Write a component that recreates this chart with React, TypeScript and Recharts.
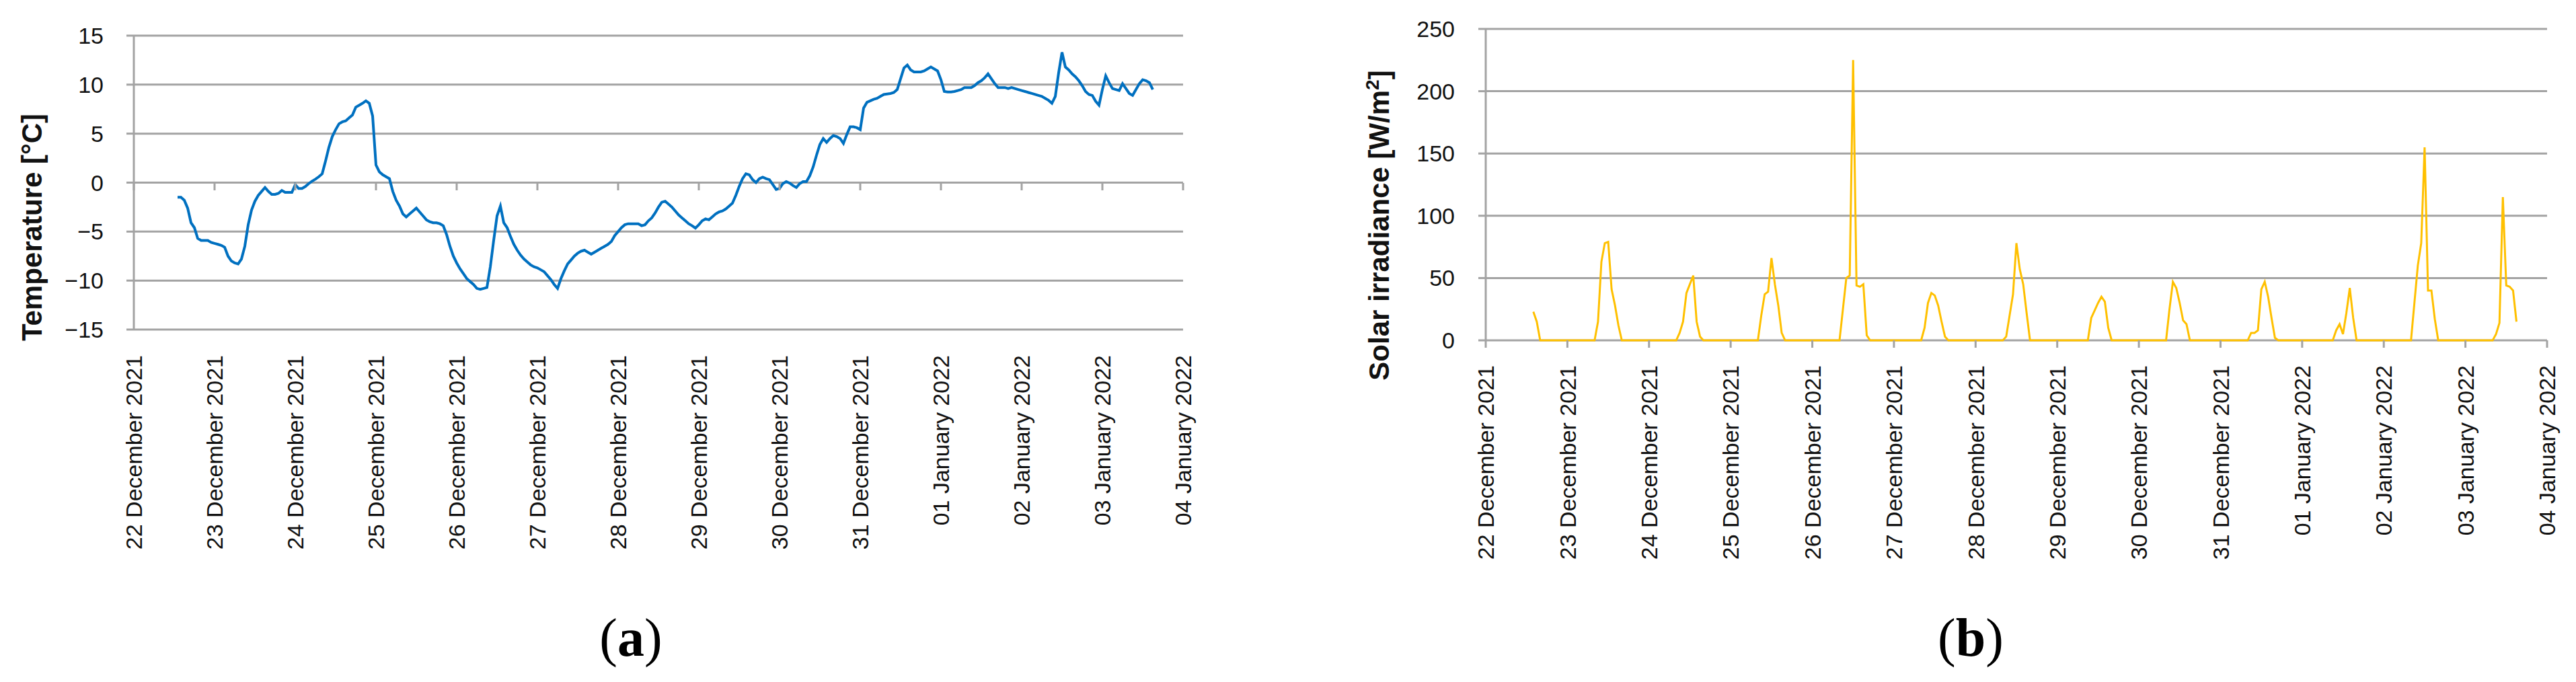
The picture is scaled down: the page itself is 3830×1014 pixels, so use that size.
import React from "react";
import { CartesianGrid, Line, LineChart, XAxis, YAxis } from "recharts";

const dateLabels = [
  "22 December 2021",
  "23 December 2021",
  "24 December 2021",
  "25 December 2021",
  "26 December 2021",
  "27 December 2021",
  "28 December 2021",
  "29 December 2021",
  "30 December 2021",
  "31 December 2021",
  "01 January 2022",
  "02 January 2022",
  "03 January 2022",
  "04 January 2022",
];
const dayTicks = dateLabels.map((_, i) => i);
const tempTicks = [-15, -10, -5, 0, 5, 10, 15];
const solarTicks = [0, 50, 100, 150, 200, 250];

// hourly air temperature [°C]; first day starts at 13:00, last day ends at 15:00
const tempDec22 = [-1.5, -1.5, -1.8, -2.6, -4.1, -4.6, -5.7, -5.9, -5.9, -5.9, -6.1];
const tempDec23 = [-6.2, -6.3, -6.4, -6.6, -7.5, -8.0, -8.2, -8.3, -7.8, -6.5, -4.3, -2.8, -1.9, -1.3, -0.9, -0.5, -0.9, -1.2, -1.2, -1.1, -0.8, -1.0, -1.0, -1.0];
const tempDec24 = [-0.2, -0.6, -0.6, -0.4, -0.1, 0.15, 0.35, 0.6, 0.9, 2.2, 3.6, 4.7, 5.4, 6.0, 6.2, 6.3, 6.6, 6.9, 7.7, 7.9, 8.1, 8.35, 8.1, 6.8];
const tempDec25 = [1.8, 1.1, 0.8, 0.6, 0.4, -0.9, -1.8, -2.4, -3.2, -3.5, -3.2, -2.9, -2.6, -3.0, -3.4, -3.8, -4.0, -4.1, -4.1, -4.2, -4.4, -5.3, -6.5, -7.5];
const tempDec26 = [-8.2, -8.8, -9.3, -9.8, -10.1, -10.4, -10.8, -10.9, -10.8, -10.7, -8.6, -5.9, -3.4, -2.4, -4.1, -4.6, -5.5, -6.3, -6.9, -7.4, -7.8, -8.1, -8.4, -8.6];
const tempDec27 = [-8.7, -8.9, -9.1, -9.5, -9.9, -10.4, -10.8, -9.8, -9.0, -8.3, -7.9, -7.5, -7.2, -7.0, -6.9, -7.1, -7.3, -7.1, -6.9, -6.7, -6.5, -6.3, -6.0, -5.4];
const tempDec28 = [-5.0, -4.6, -4.3, -4.2, -4.2, -4.2, -4.2, -4.4, -4.3, -3.9, -3.6, -3.1, -2.5, -2.0, -1.9, -2.2, -2.5, -2.9, -3.3, -3.6, -3.9, -4.2, -4.4, -4.65];
const tempDec29 = [-4.3, -3.9, -3.7, -3.8, -3.5, -3.2, -3.0, -2.9, -2.7, -2.4, -2.1, -1.3, -0.4, 0.4, 0.9, 0.8, 0.3, 0.0, 0.4, 0.55, 0.4, 0.3, -0.2, -0.7];
const tempDec30 = [-0.6, -0.1, 0.1, -0.05, -0.3, -0.5, -0.1, 0.1, 0.1, 0.7, 1.6, 2.8, 3.9, 4.5, 4.1, 4.5, 4.8, 4.7, 4.5, 4.0, 4.9, 5.7, 5.7, 5.6];
const tempDec31 = [5.4, 7.6, 8.2, 8.35, 8.5, 8.6, 8.8, 9.0, 9.05, 9.1, 9.2, 9.5, 10.6, 11.7, 12.0, 11.5, 11.3, 11.3, 11.3, 11.4, 11.6, 11.8, 11.6, 11.4];
const tempJan01 = [10.5, 9.3, 9.25, 9.25, 9.3, 9.4, 9.5, 9.7, 9.7, 9.7, 9.9, 10.2, 10.4, 10.7, 11.1, 10.6, 10.1, 9.7, 9.7, 9.7, 9.6, 9.7, 9.6, 9.5];
const tempJan02 = [9.4, 9.3, 9.2, 9.1, 9.0, 8.9, 8.8, 8.6, 8.4, 8.1, 8.8, 11.2, 13.3, 11.8, 11.5, 11.1, 10.8, 10.4, 9.9, 9.3, 9.0, 8.9, 8.3, 7.9];
const tempJan03 = [9.5, 10.9, 10.2, 9.6, 9.5, 9.4, 10.1, 9.6, 9.1, 8.9, 9.5, 10.1, 10.5, 10.4, 10.2, 9.5];

// hourly solar irradiance [W/m²]; first day starts at 14:00, last day ends at 15:00
const solarDec22 = [23, 15, 0, 0, 0, 0, 0, 0, 0, 0];
const solarDec23 = [0, 0, 0, 0, 0, 0, 0, 0, 0, 15, 63, 78, 79, 41, 28, 12, 0, 0, 0, 0, 0, 0, 0, 0];
const solarDec24 = [0, 0, 0, 0, 0, 0, 0, 0, 0, 6, 15, 38, 45, 52, 15, 3, 0, 0, 0, 0, 0, 0, 0, 0];
const solarDec25 = [0, 0, 0, 0, 0, 0, 0, 0, 0, 20, 37, 39, 66, 45, 28, 6, 0, 0, 0, 0, 0, 0, 0, 0];
const solarDec26 = [0, 0, 0, 0, 0, 0, 0, 0, 0, 25, 50, 52, 225, 44, 43, 45, 4, 0, 0, 0, 0, 0, 0, 0];
const solarDec27 = [0, 0, 0, 0, 0, 0, 0, 0, 0, 10, 30, 38, 36, 28, 15, 3, 0, 0, 0, 0, 0, 0, 0, 0];
const solarDec28 = [0, 0, 0, 0, 0, 0, 0, 0, 0, 3, 20, 37, 78, 57, 45, 22, 0, 0, 0, 0, 0, 0, 0, 0];
const solarDec29 = [0, 0, 0, 0, 0, 0, 0, 0, 0, 0, 18, 24, 30, 35, 31, 10, 0, 0, 0, 0, 0, 0, 0, 0];
const solarDec30 = [0, 0, 0, 0, 0, 0, 0, 0, 0, 25, 47, 42, 30, 16, 13, 0, 0, 0, 0, 0, 0, 0, 0, 0];
const solarDec31 = [0, 0, 0, 0, 0, 0, 0, 0, 0, 6, 6, 8, 41, 47, 35, 18, 2, 0, 0, 0, 0, 0, 0, 0];
const solarJan01 = [0, 0, 0, 0, 0, 0, 0, 0, 0, 0, 8, 13, 5, 22, 42, 18, 0, 0, 0, 0, 0, 0, 0, 0];
const solarJan02 = [0, 0, 0, 0, 0, 0, 0, 0, 0, 30, 60, 78, 155, 40, 40, 17, 0, 0, 0, 0, 0, 0, 0, 0];
const solarJan03 = [0, 0, 0, 0, 0, 0, 0, 0, 0, 5, 14, 115, 44, 43, 40, 15];

const tempDays = [tempDec22, tempDec23, tempDec24, tempDec25, tempDec26, tempDec27, tempDec28, tempDec29, tempDec30, tempDec31, tempJan01, tempJan02, tempJan03];
const solarDays = [solarDec22, solarDec23, solarDec24, solarDec25, solarDec26, solarDec27, solarDec28, solarDec29, solarDec30, solarDec31, solarJan01, solarJan02, solarJan03];

// x = days since 22 Dec 00:00
function toRows(days: number[][], firstHour: number) {
  const rows: { t: number; v: number }[] = [];
  days.forEach((vals, d) => {
    const start = d === 0 ? firstHour : 0;
    vals.forEach((v, i) => rows.push({ t: d + (start + i) / 24, v }));
  });
  return rows;
}

const tempData = toRows(tempDays, 13);
const solarData = toRows(solarDays, 14);

const gridColor = "#a3a3a3";
const textColor = "#111";
const sans = "'Liberation Sans', Arial, sans-serif";

function DateTick(props: any) {
  const { x, payload, markY, labelY } = props;
  return (
    <g>
      <line x1={x} x2={x} y1={markY} y2={markY + 11} stroke={gridColor} strokeWidth={3} />
      <text
        transform={`translate(${x},${labelY}) rotate(-90)`}
        textAnchor="end"
        dy="0.36em"
        fontSize={34}
        fill={textColor}
        fontFamily={sans}
      >
        {dateLabels[payload.value]}
      </text>
    </g>
  );
}

const fmtTemp = (v: number) => (v < 0 ? `\u2212${Math.abs(v)}` : `${v}`);

export default function App() {
  return (
    <div
      style={{
        position: "absolute",
        left: 0,
        top: 0,
        width: 3830,
        height: 1014,
        background: "#fff",
        fontFamily: sans,
      }}
    >
      <div style={{ position: "absolute", left: 0, top: 0 }}>
        <LineChart width={1800} height={860} data={tempData} margin={{ top: 53, right: 41, bottom: 0, left: 0 }}>
          <CartesianGrid vertical={false} stroke={gridColor} strokeWidth={3} />
          <XAxis
            dataKey="t"
            type="number"
            domain={[0, 13]}
            ticks={dayTicks}
            interval={0}
            height={370}
            axisLine={false}
            tickLine={false}
            tick={(p: any) => <DateTick {...p} markY={272} labelY={528} />}
          />
          <YAxis
            domain={[-15, 15]}
            ticks={tempTicks}
            width={199}
            tickSize={11}
            tickMargin={34}
            tickFormatter={fmtTemp}
            axisLine={{ stroke: gridColor, strokeWidth: 3 }}
            tickLine={{ stroke: gridColor, strokeWidth: 3 }}
            tick={{ fontSize: 34, fill: textColor, fontFamily: sans }}
          />
          <Line
            type="linear"
            dataKey="v"
            stroke="#0070C0"
            strokeWidth={4}
            dot={false}
            activeDot={false}
            isAnimationActive={false}
          />
        </LineChart>
      </div>

      <div style={{ position: "absolute", left: 1900, top: 0 }}>
        <LineChart width={1930} height={860} data={solarData} margin={{ top: 43, right: 43, bottom: 0, left: 0 }}>
          <CartesianGrid vertical={false} stroke={gridColor} strokeWidth={3} />
          <XAxis
            dataKey="t"
            type="number"
            domain={[0, 13]}
            ticks={dayTicks}
            interval={0}
            height={354}
            axisLine={false}
            tickLine={false}
            tick={(p: any) => <DateTick {...p} markY={506} labelY={543} />}
          />
          <YAxis
            domain={[0, 250]}
            ticks={solarTicks}
            width={309}
            tickSize={11}
            tickMargin={35}
            axisLine={{ stroke: gridColor, strokeWidth: 3 }}
            tickLine={{ stroke: gridColor, strokeWidth: 3 }}
            tick={{ fontSize: 34, fill: textColor, fontFamily: sans }}
          />
          <Line
            type="linear"
            dataKey="v"
            stroke="#FFC000"
            strokeWidth={3}
            dot={false}
            activeDot={false}
            isAnimationActive={false}
          />
        </LineChart>
      </div>

      <svg
        width={3830}
        height={1014}
        style={{ position: "absolute", left: 0, top: 0, pointerEvents: "none" }}
      >
        <text
          transform="translate(47,338) rotate(-90)"
          textAnchor="middle"
          dy="0.35em"
          fontSize={42}
          fontWeight="bold"
          fill={textColor}
          fontFamily={sans}
        >
          Temperature [°C]
        </text>
        <text
          transform="translate(2050,335) rotate(-90)"
          textAnchor="middle"
          dy="0.35em"
          fontSize={42}
          fontWeight="bold"
          fill={textColor}
          fontFamily={sans}
        >
          Solar irradiance [W/m
          <tspan dy={-15} fontSize={28}>2</tspan>
          <tspan dy={15}>]</tspan>
        </text>
        <text x={938} y={975} textAnchor="middle" fontSize={80} fill="#000" fontFamily="'Liberation Serif', 'Times New Roman', serif">
          (<tspan fontWeight="bold">a</tspan>)
        </text>
        <text x={2930} y={975} textAnchor="middle" fontSize={80} fill="#000" fontFamily="'Liberation Serif', 'Times New Roman', serif">
          (<tspan fontWeight="bold">b</tspan>)
        </text>
      </svg>
    </div>
  );
}
